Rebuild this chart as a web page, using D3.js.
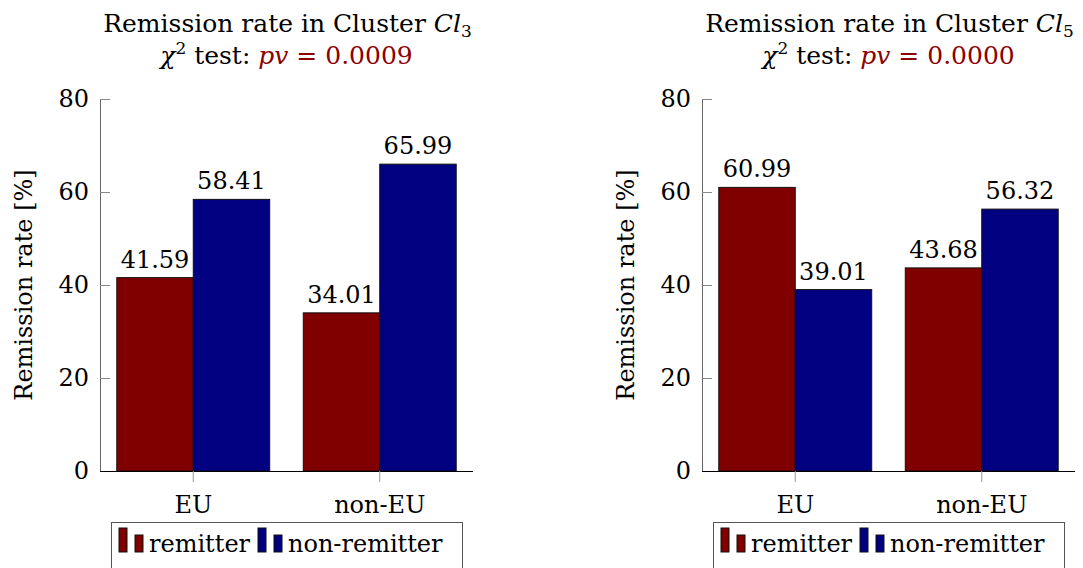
<!DOCTYPE html>
<html>
<head>
<meta charset="utf-8">
<script src="https://cdn.jsdelivr.net/npm/d3@7"></script>
<style>
body { margin: 0; background: white; }
text { font-family: "DejaVu Serif", serif; fill: #000; }
</style>
</head>
<body>
<script>
var categories = ["EU", "non-EU"];
var seriesNames = ["remitter", "non-remitter"];
var seriesColors = ["#800000", "#000080"];
var yTicks = [0, 20, 40, 60, 80];

var cl3Remitter = [41.59, 34.01];
var cl3NonRemitter = [58.41, 65.99];
var cl5Remitter = [60.99, 43.68];
var cl5NonRemitter = [39.01, 56.32];

var panels = [
  { left: 100, cluster: "3", pv: "0.0009", series: [cl3Remitter, cl3NonRemitter] },
  { left: 702, cluster: "5", pv: "0.0000", series: [cl5Remitter, cl5NonRemitter] }
];

var W = 1083, H = 568;
var plotW = 373, plotTop = 99, plotBottom = 471;
var fs = 24;

var svg = d3.select("body").append("svg")
  .attr("width", W)
  .attr("height", H);

var y = d3.scaleLinear().domain([0, 80]).range([plotBottom, plotTop]);

panels.forEach(function(p) {
  var g = svg.append("g").attr("transform", "translate(" + p.left + ",0)");

  var x = d3.scaleBand().domain(categories).range([0, plotW]).padding(0);
  var barW = x.bandwidth() * 0.41;

  // title
  var t1 = g.append("text")
    .attr("x", plotW / 2 + 1).attr("y", 32)
    .attr("text-anchor", "middle")
    .style("font-size", "25px");
  t1.append("tspan").text("Remission rate in Cluster ");
  t1.append("tspan").style("font-style", "italic").text("Cl");
  t1.append("tspan").attr("dy", 5).style("font-size", "17px").text(p.cluster);

  var t2 = g.append("text")
    .attr("x", plotW / 2).attr("y", 64)
    .attr("text-anchor", "middle")
    .style("font-size", "25px");
  t2.append("tspan").style("font-style", "italic").text("χ");
  t2.append("tspan").attr("dy", -10).style("font-size", "17px").text("2");
  t2.append("tspan").attr("dy", 10).text(" test: ");
  t2.append("tspan").style("font-style", "italic").style("fill", "#8b0000").text("pv");
  t2.append("tspan").style("fill", "#8b0000").text(" = " + p.pv);

  // bars
  p.series.forEach(function(vals, si) {
    var bars = g.selectAll(".bar" + si).data(vals);
    bars.enter().append("rect")
      .attr("class", "bar" + si)
      .attr("x", function(d, i) {
        var c = x(categories[i]) + x.bandwidth() / 2;
        return si === 0 ? c - barW : c;
      })
      .attr("y", function(d) { return y(d); })
      .attr("width", barW)
      .attr("height", function(d) { return y(0) - y(d); })
      .attr("fill", seriesColors[si])
      .attr("stroke", "#111")
      .attr("stroke-width", 1);

    g.selectAll(".lab" + si).data(vals).enter().append("text")
      .attr("class", "lab" + si)
      .attr("x", function(d, i) {
        var c = x(categories[i]) + x.bandwidth() / 2;
        return si === 0 ? c - barW / 2 : c + barW / 2;
      })
      .attr("y", function(d) { return y(d) - 10; })
      .attr("text-anchor", "middle")
      .style("font-size", fs + "px")
      .text(function(d) { return d3.format(".2f")(d); });
  });

  // y axis
  var yAxis = d3.axisLeft(y).tickValues(yTicks).tickSize(-10).tickPadding(11);
  var ya = g.append("g").call(yAxis);
  ya.select(".domain").attr("stroke", "#666").attr("d", "M0.5," + plotTop + "V" + plotBottom);
  ya.selectAll(".tick line").attr("stroke", "#888");
  ya.selectAll(".tick text")
    .style("font-family", "DejaVu Serif, serif")
    .style("font-size", fs + "px")
    .attr("fill", "#000");

  // x axis
  var xAxis = d3.axisBottom(x).tickSize(11).tickPadding(14);
  var xa = g.append("g").attr("transform", "translate(0," + plotBottom + ")").call(xAxis);
  xa.select(".domain").attr("stroke", "#000").attr("d", "M0,0.5H" + plotW);
  xa.selectAll(".tick line").attr("stroke", "#999");
  xa.selectAll(".tick text")
    .style("font-family", "DejaVu Serif, serif")
    .style("font-size", fs + "px")
    .attr("fill", "#000");

  // y label
  g.append("text")
    .attr("transform", "translate(" + (-68) + "," + ((plotTop + plotBottom) / 2) + ") rotate(-90)")
    .attr("text-anchor", "middle")
    .style("font-size", fs + "px")
    .text("Remission rate [%]");

  // legend
  var lg = g.append("g").attr("transform", "translate(11,522)");
  lg.append("rect")
    .attr("x", 0.5).attr("y", 0.5)
    .attr("width", 351).attr("height", 70)
    .attr("fill", "white").attr("stroke", "#555");

  var legendX = [8, 147];
  seriesNames.forEach(function(name, si) {
    var lx = legendX[si];
    lg.append("rect").attr("x", lx).attr("y", 6).attr("width", 8).attr("height", 24)
      .attr("fill", seriesColors[si]).attr("stroke", "#111");
    lg.append("rect").attr("x", lx + 16).attr("y", 13).attr("width", 8).attr("height", 17)
      .attr("fill", seriesColors[si]).attr("stroke", "#111");
    lg.append("text").attr("x", lx + 30).attr("y", 30)
      .style("font-size", fs + "px")
      .text(name);
  });
});
</script>
</body>
</html>
